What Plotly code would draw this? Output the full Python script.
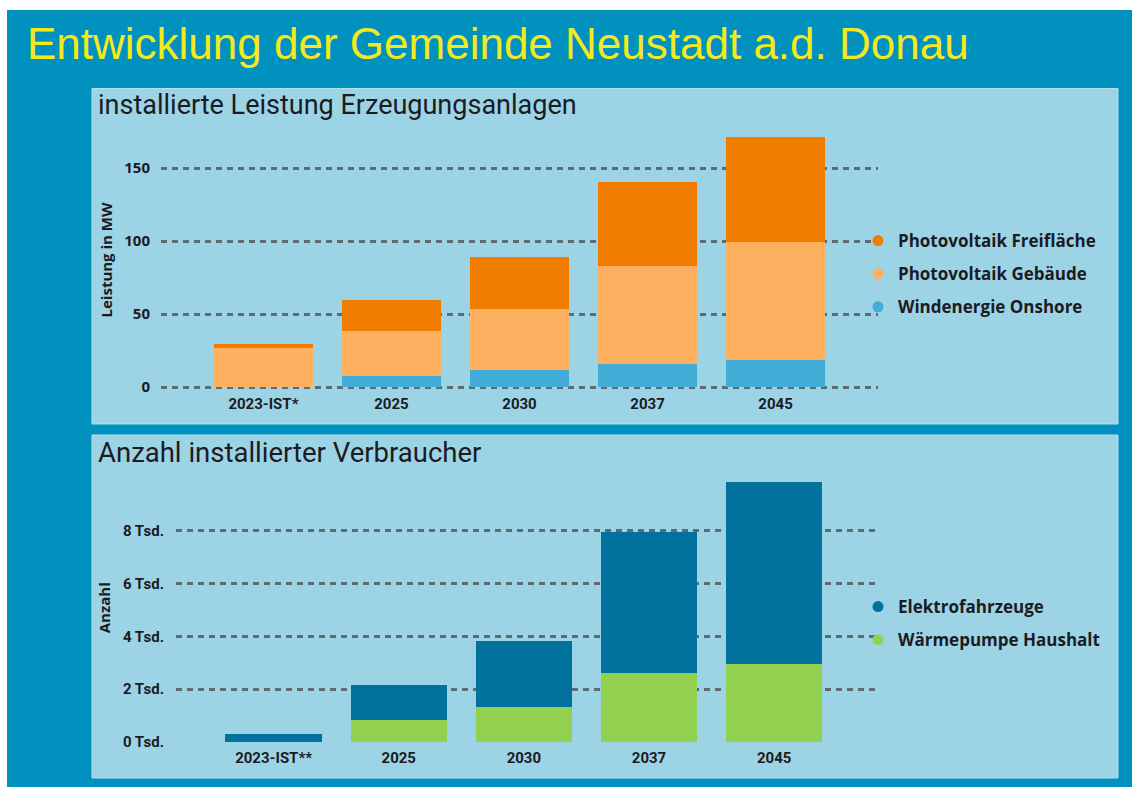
import plotly.graph_objects as go

# ---------------- data ----------------
years_top = ["2023-IST*", "2025", "2030", "2037", "2045"]
wind_onshore = [0, 7.7, 12, 15.9, 18.6]
pv_gebaeude = [27, 31, 41.7, 67.3, 80.4]
pv_freiflaeche = [2.7, 20.7, 35.6, 57.5, 72.5]

years_bottom = ["2023-IST**", "2025", "2030", "2037", "2045"]
waermepumpe = [0, 850, 1310, 2610, 2970]
elektrofahrzeuge = [320, 1300, 2530, 5360, 6870]

top_ticks = [0, 50, 100, 150]
bottom_ticks = [0, 2000, 4000, 6000, 8000]
bottom_ticktext = ["0 Tsd.", "2 Tsd.", "4 Tsd.", "6 Tsd.", "8 Tsd."]

# ---------------- styles ----------------
W, H = 1132, 787
C_OUTER = "#0091be"
C_PANEL = "#9dd4e5"
C_FREI = "#f07d00"
C_GEB = "#fdb060"
C_WIND = "#41acd5"
C_EV = "#00729d"
C_WP = "#92d050"
C_TEXT = "#1b1b24"
C_GRID = "#5e6b70"

COND = "Roboto, sans-serif"
SEGOE = "Open Sans, Noto Sans, sans-serif"


def px_x(p):
    return p / W


def px_y(p):
    return 1 - p / H


fig = go.Figure()

# top chart traces (stack bottom -> top)
top_series = [
    ("Windenergie Onshore", wind_onshore, C_WIND, 3),
    ("Photovoltaik Gebäude", pv_gebaeude, C_GEB, 2),
    ("Photovoltaik Freifläche", pv_freiflaeche, C_FREI, 1),
]
for name, vals, col, rank in top_series:
    fig.add_trace(go.Bar(x=years_top, y=vals, marker=dict(color=col, line=dict(width=0)),
                         name=name, showlegend=False, xaxis="x", yaxis="y"))
    fig.add_trace(go.Scatter(x=[None], y=[None], mode="markers", name=name,
                             marker=dict(color=col, size=11, symbol="circle"),
                             legend="legend", legendgroup=name, legendrank=rank,
                             xaxis="x", yaxis="y"))

bottom_series = [
    ("Wärmepumpe Haushalt", waermepumpe, C_WP, 2),
    ("Elektrofahrzeuge", elektrofahrzeuge, C_EV, 1),
]
for name, vals, col, rank in bottom_series:
    fig.add_trace(go.Bar(x=years_bottom, y=vals, marker=dict(color=col, line=dict(width=0)),
                         name=name, showlegend=False, xaxis="x2", yaxis="y2"))
    fig.add_trace(go.Scatter(x=[None], y=[None], mode="markers", name=name,
                             marker=dict(color=col, size=11, symbol="circle"),
                             legend="legend2", legendgroup=name, legendrank=rank,
                             xaxis="x2", yaxis="y2"))

tickfont_x = dict(family=COND, size=15, color=C_TEXT, weight="bold")
axis_common = dict(showline=False, zeroline=False, ticks="", fixedrange=True, automargin=False)

legend_font = dict(family=SEGOE, size=17, color=C_TEXT, weight="bold")
grid_style = dict(showgrid=True, gridcolor=C_GRID, gridwidth=2.5, griddash="6px,5px")

fig.update_layout(
    width=W, height=H,
    autosize=False,
    margin=dict(l=0, r=0, t=0, b=0, pad=0),
    paper_bgcolor=C_OUTER,
    plot_bgcolor="rgba(0,0,0,0)",
    barmode="stack",
    bargap=0.23,
    showlegend=True,
    xaxis=dict(domain=[px_x(161), px_x(878)], anchor="y", range=[-0.8, 4.8],
               showgrid=False, tickfont=tickfont_x, ticklabelstandoff=4, **axis_common),
    yaxis=dict(domain=[px_y(388.5), px_y(131.5)], anchor="x", range=[-1, 175],
               tickvals=top_ticks, **grid_style,
               tickfont=dict(family=SEGOE, size=15, color=C_TEXT, weight="bold"),
               ticklabelstandoff=10,
               title=dict(text="Leistung in MW", font=dict(family=SEGOE, size=15, color=C_TEXT, weight="bold"),
                          standoff=8),
               **axis_common),
    xaxis2=dict(domain=[px_x(176), px_x(878)], anchor="y2", range=[-0.78, 4.83],
                showgrid=False, tickfont=tickfont_x, ticklabelstandoff=4, **axis_common),
    yaxis2=dict(domain=[px_y(742.8), px_y(472.7)], anchor="x2", range=[-30, 10200],
                tickvals=bottom_ticks, ticktext=bottom_ticktext, **grid_style,
                tickfont=dict(family=COND, size=15, color=C_TEXT, weight="bold"), ticklabelstandoff=11,
                title=dict(text="Anzahl", font=dict(family=SEGOE, size=15, color=C_TEXT, weight="bold"),
                           standoff=8),
                **axis_common),
    legend=dict(x=px_x(872), y=px_y(223), xanchor="left", yanchor="top",
                traceorder="grouped", tracegroupgap=8, bgcolor="rgba(0,0,0,0)",
                font=legend_font, itemwidth=30, indentation=-14),
    legend2=dict(x=px_x(872), y=px_y(589), xanchor="left", yanchor="top",
                 traceorder="grouped", tracegroupgap=8, bgcolor="rgba(0,0,0,0)",
                 font=legend_font, itemwidth=30, indentation=-14),
    shapes=[
        dict(type="rect", xref="paper", yref="paper", x0=0, x1=1, y0=px_y(10), y1=1,
             fillcolor="white", line=dict(width=0), layer="below"),
        dict(type="rect", xref="paper", yref="paper", x0=0, x1=px_x(7), y0=0, y1=1,
             fillcolor="white", line=dict(width=0), layer="below"),
        dict(type="rect", xref="paper", yref="paper", x0=px_x(92), x1=px_x(1118),
             y0=px_y(424), y1=px_y(88.5), fillcolor=C_PANEL,
             line=dict(width=1, color="#b3e0ee"), layer="below"),
        dict(type="rect", xref="paper", yref="paper", x0=px_x(92), x1=px_x(1118),
             y0=px_y(778), y1=px_y(435), fillcolor=C_PANEL,
             line=dict(width=1, color="#b3e0ee"), layer="below"),
    ],
    annotations=[
        dict(text="Entwicklung der Gemeinde Neustadt a.d. Donau", xref="paper", yref="paper",
             x=px_x(25), y=px_y(43), xanchor="left", yanchor="middle", showarrow=False,
             font=dict(family="Liberation Sans, Arial, sans-serif", size=44, color="#f4e91c")),
        dict(text="installierte Leistung Erzeugungsanlagen", xref="paper", yref="paper",
             x=px_x(96), y=px_y(105), xanchor="left", yanchor="middle", showarrow=False,
             font=dict(family=COND, size=27, color=C_TEXT)),
        dict(text="Anzahl installierter Verbraucher", xref="paper", yref="paper",
             x=px_x(96), y=px_y(452), xanchor="left", yanchor="middle", showarrow=False,
             font=dict(family=COND, size=27.5, color=C_TEXT)),
    ],
)

fig.write_html("out.html")
